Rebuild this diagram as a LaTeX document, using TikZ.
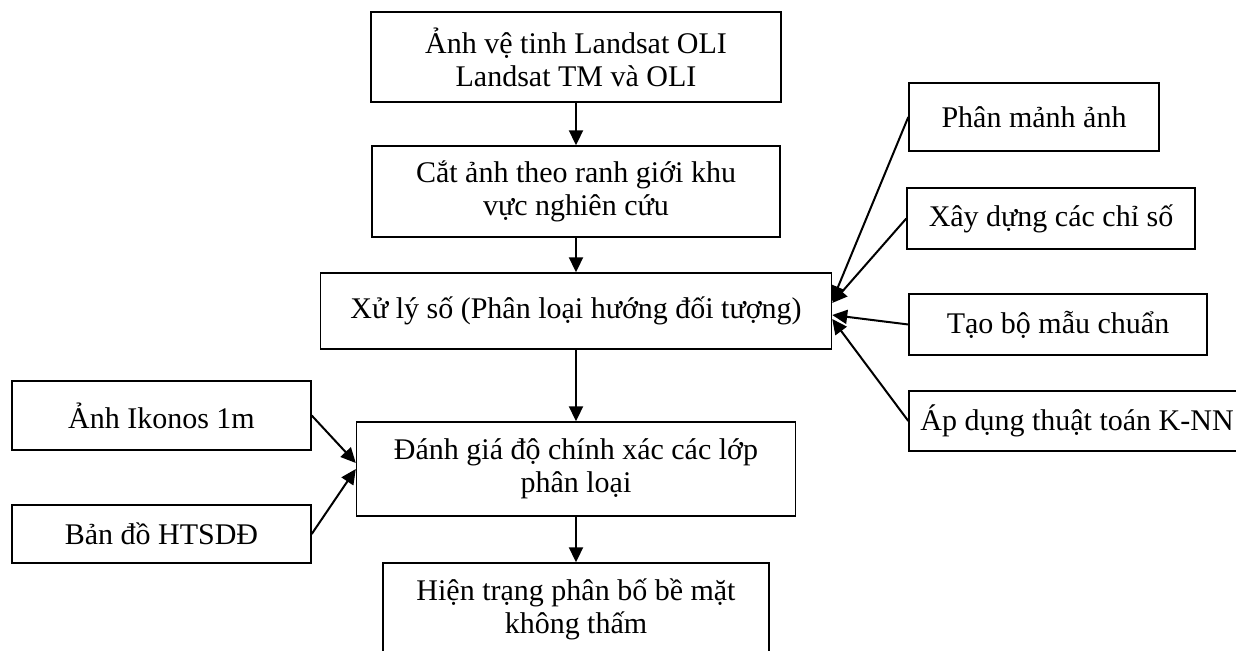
\documentclass[tikz,border=0pt]{standalone}
\usepackage{fontspec}
\setmainfont{Liberation Serif}
\usetikzlibrary{arrows.meta}

\begin{document}
\begin{tikzpicture}[x=0.5pt,y=-0.5pt,
    box/.style={draw=black,line width=0.7pt,align=center,inner sep=0pt,font=\fontsize{15}{16.5}\selectfont},
    arr/.style={-{Triangle[length=7.5pt,width=7pt]},line width=1pt}]

    % frame
    \useasboundingbox (0,0) rectangle (1236,651);
    \def\cx{576}

    % main column
    \node[box,minimum width=205pt,minimum height=45pt] (anh) at (\cx,57) {Ảnh vệ tinh Landsat OLI\\Landsat TM và OLI};
    \node[box,minimum width=204pt,minimum height=45.5pt] (cat) at (\cx,191.5) {Cắt ảnh theo ranh giới khu\\vực nghiên cứu};
    \node[box,minimum width=255.5pt,minimum height=38pt] (xuly) at (\cx,311) {Xử lý số (Phân loại hướng đối tượng)};
    \node[box,minimum width=219.5pt,minimum height=47pt] (danhgia) at (\cx,469) {Đánh giá độ chính xác các lớp\\phân loại};
    \node[box,minimum width=193pt,minimum height=46pt] (hientrang) at (\cx,609) {Hiện trạng phân bố bề mặt\\không thấm};

    % left inputs
    \node[box,minimum width=149.5pt,minimum height=34.5pt] (ikonos) at (161.5,415.5) {Ảnh Ikonos 1m};
    \node[box,minimum width=149.5pt,minimum height=29pt] (bando) at (161.5,534) {Bản đồ HTSDĐ};

    % right steps
    \foreach \n/\x/\y/\w/\h/\t in {pm/1034/117/125/34/Phân mảnh ảnh,xd/1051/218.5/144/30.5/Xây dựng các chỉ số,tb/1058/324.5/149/30.5/Tạo bộ mẫu chuẩn,ad/1077/421/168/30/Áp dụng thuật toán K-NN}{
        \node[box,minimum width=\w pt,minimum height=\h pt] (\n) at (\x,\y) {\t};
    }

    % arrows
    \foreach \a/\b in {anh/cat,cat/xuly,xuly/danhgia,danhgia/hientrang}
        \draw[arr] (\a.south) -- (\b.north);
    \foreach \n/\s in {pm/5,xd/4,tb/-2,ad/-4}
        \draw[arr] (\n.west) -- ([yshift=\s pt]xuly.east);
    \draw[arr] (ikonos.east) -- ([yshift=3pt]danhgia.west);
    \draw[arr] (bando.east) -- (danhgia.west);

\end{tikzpicture}
\end{document}
